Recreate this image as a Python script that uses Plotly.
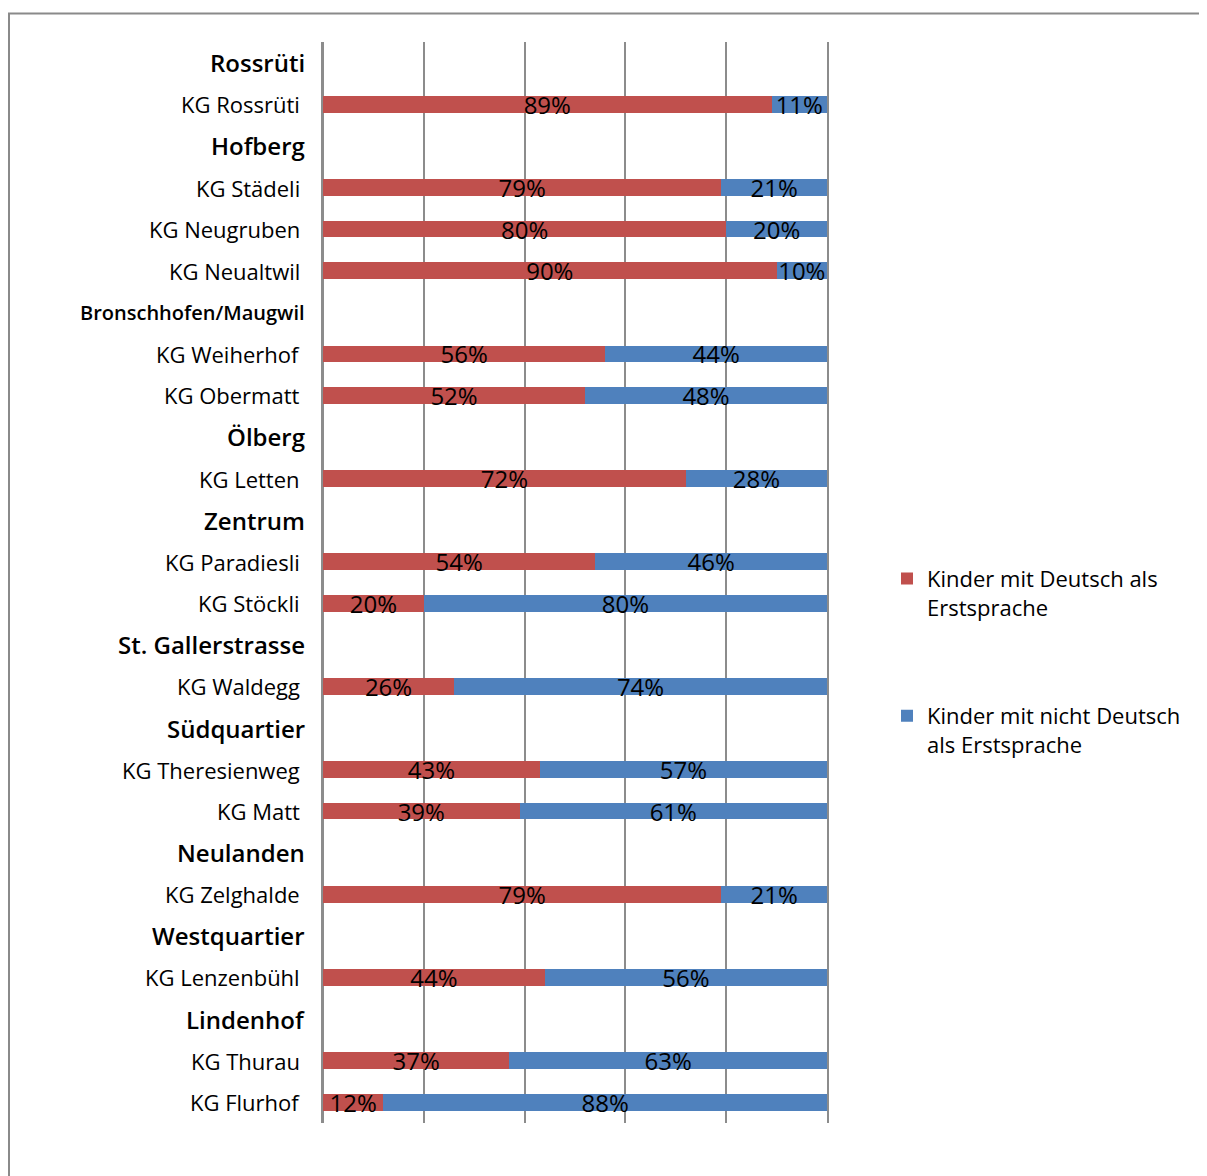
import plotly.graph_objects as go

# ---- data ----
rows = ["Rossrüti", "KG Rossrüti", "Hofberg", "KG Städeli", "KG Neugruben", "KG Neualtwil",
        "Bronschhofen/Maugwil", "KG Weiherhof", "KG Obermatt", "Ölberg", "KG Letten",
        "Zentrum", "KG Paradiesli", "KG Stöckli", "St. Gallerstrasse", "KG Waldegg",
        "Südquartier", "KG Theresienweg", "KG Matt", "Neulanden", "KG Zelghalde",
        "Westquartier", "KG Lenzenbühl", "Lindenhof", "KG Thurau", "KG Flurhof"]
is_header = [True, False, True, False, False, False,
             True, False, False, True, False,
             True, False, False, True, False,
             True, False, False, True, False,
             True, False, True, False, False]
deutsch = [None, 89, None, 79, 80, 90,
           None, 56, 52, None, 72,
           None, 54, 20, None, 26,
           None, 43, 39, None, 79,
           None, 44, None, 37, 12]
nicht_deutsch = [None, 11, None, 21, 20, 10,
                 None, 44, 48, None, 28,
                 None, 46, 80, None, 74,
                 None, 57, 61, None, 21,
                 None, 56, None, 63, 88]
series_names = ["Kinder mit Deutsch als<br>Erstsprache",
                "Kinder mit nicht Deutsch<br>als Erstsprache"]
colors = ["#C0504D", "#4F81BD"]

FONT = "Open Sans"

# page has an 8px body margin, so the figure is offset by 8px
W, H = 1199, 1168
L, T, R, B = 315, 34, 380, 53
PW = W - L - R
PH = H - T - B

fig = go.Figure()
for i, (vals, name, col) in enumerate(zip([deutsch, nicht_deutsch], series_names, colors)):
    fig.add_trace(go.Bar(
        y=rows, x=vals, orientation="h", name=name,
        marker=dict(color=col, line=dict(width=0)),
        width=0.4,
        text=[f"{v}%" if v is not None else "" for v in vals],
        textposition="inside", insidetextanchor="middle",
        textangle=0, constraintext="none",
        textfont=dict(family=FONT, size=24, color="black"),
        legendgroup=f"g{i}",
        hoverinfo="skip",
    ))

annotations = []
for idx, (lab, hdr) in enumerate(zip(rows, is_header)):
    if hdr:
        size = 20 if lab == "Bronschhofen/Maugwil" else 24
        annotations.append(dict(
            x=0, xref="paper", y=idx, yref="y", text=lab, showarrow=False,
            xanchor="right", yanchor="middle", xshift=-16,
            font=dict(family=FONT, size=size, color="black", weight=600)))
    else:
        annotations.append(dict(
            x=0, xref="paper", y=idx, yref="y", text=lab, showarrow=False,
            xanchor="right", yanchor="middle", xshift=-21,
            font=dict(family=FONT, size=22, color="black")))

fig.update_layout(
    width=W, height=H,
    margin=dict(l=L, r=R, t=T, b=B),
    barmode="stack",
    plot_bgcolor="white", paper_bgcolor="white",
    font=dict(family=FONT, size=22, color="black"),
    xaxis=dict(range=[0, 100], tickvals=[0, 20, 40, 60, 80, 100], showticklabels=False,
               showgrid=True, gridcolor="#8c8c8c", gridwidth=1.5,
               zeroline=True, zerolinecolor="#8c8c8c", zerolinewidth=1.5,
               ticks="", fixedrange=True),
    yaxis=dict(type="category", categoryorder="array", categoryarray=rows,
               range=[25.5, -0.5], showticklabels=False, showgrid=False,
               showline=True, mirror=True, linecolor="#8c8c8c", linewidth=1.5,
               ticks="", zeroline=False),
    legend=dict(x=(879 - L) / PW, xanchor="left", y=0.523, yanchor="top",
                traceorder="grouped", tracegroupgap=77, valign="top",
                font=dict(family=FONT, size=22, color="black"),
                itemwidth=30),
    annotations=annotations,
    shapes=[dict(type="rect", xref="paper", yref="paper",
                 x0=(1 - L) / PW, x1=(W + 20 - L) / PW,
                 y0=-0.2, y1=(PH + T - 5.5) / PH,
                 line=dict(color="#8a8a8a", width=2), fillcolor="rgba(0,0,0,0)",
                 layer="below")],
)

fig.write_html("out.html")
